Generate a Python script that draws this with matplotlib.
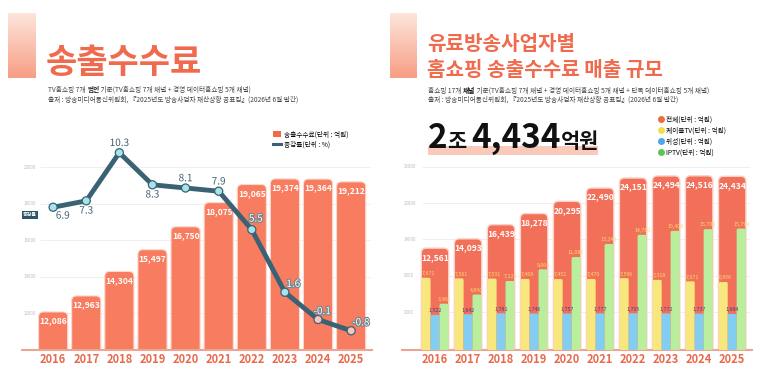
import numpy as np
import matplotlib
matplotlib.use("Agg")
import matplotlib.pyplot as plt
from matplotlib.patches import FancyBboxPatch, Rectangle, Patch
from matplotlib.lines import Line2D
import matplotlib.patheffects as pe

plt.rcParams['font.family'] = ['Noto Sans CJK KR', 'DejaVu Sans']

# ---- data ----
years = ['2016', '2017', '2018', '2019', '2020', '2021', '2022', '2023', '2024', '2025']
fees = [12086, 12963, 14304, 15497, 16750, 18075, 19065, 19374, 19364, 19212]
growth = [6.9, 7.3, 10.3, 8.3, 8.1, 7.9, 5.5, 1.6, -0.1, -0.8]

total = [12561, 14093, 16439, 18278, 20295, 22490, 24151, 24494, 24516, 24434]
cable = [7671, 7561, 7531, 7468, 7452, 7470, 7596, 7318, 7071, 6956]
sat = [1522, 1642, 1781, 1746, 1757, 1777, 1795, 1772, 1737, 1684]
iptv = [3368, 4890, 7127, 9064, 11086, 13243, 14760, 15404, 15708, 15794]

left_ticks = [12000, 14000, 16000, 18000, 20000]
right_ticks = [2000, 8000, 14000, 20000, 26000]

W, H = 765, 382
CORAL = '#F77C60'
RED = '#F2705A'
TITLE = '#F06A4E'
TEAL = '#3B6274'
YEARC = '#E8694C'

fig = plt.figure(figsize=(W / 100, H / 100), dpi=100)
fig.patch.set_facecolor('white')


def fx(x):
    return x / W


def fy(y):
    return 1 - y / H


def round_bars(ax, bars, r_px, **kw):
    x0, x1 = ax.get_xlim()
    y0, y1 = ax.get_ylim()
    sx = ax.bbox.width / (x1 - x0)
    sy = ax.bbox.height / (y1 - y0)
    ext = 3 * r_px / sy
    for b in bars:
        b.set_visible(False)
        p = FancyBboxPatch((b.get_x(), b.get_y() - ext), b.get_width(), b.get_height() + ext,
                           boxstyle=f"round,pad=0,rounding_size={r_px / sx}",
                           mutation_aspect=sx / sy, **kw)
        ax.add_patch(p)


def style_axis(ax, ticks, gx0):
    for s in ['top', 'right', 'left']:
        ax.spines[s].set_visible(False)
    ax.spines['bottom'].set_color('#EBA595')
    ax.spines['bottom'].set_linewidth(1.5)
    ax.set_yticks([])
    ax.hlines(ticks, gx0, 0.995, transform=ax.get_yaxis_transform(), color='#EDEDED', lw=0.6, zorder=0)
    for t in ticks:
        ax.text(0.004, t, str(t), transform=ax.get_yaxis_transform(), ha='left', va='center',
                fontsize=3.2, color='#BDBDBD')
    ax.set_xticks(range(len(years)))
    ax.set_xticklabels(years, fontsize=8, fontweight='bold', color=YEARC)
    ax.tick_params(axis='x', length=0, pad=2)


def gradient_block(x0, y0, x1, y1):
    gax = fig.add_axes([fx(x0), fy(y1), fx(x1 - x0), (y1 - y0) / H])
    grad = np.linspace(0, 1, 100).reshape(-1, 1)
    c_top = np.array([0.99, 0.90, 0.86])
    c_bot = np.array([0.97, 0.62, 0.52])
    img = c_top[None, None, :] * (1 - grad[:, :, None]) + c_bot[None, None, :] * grad[:, :, None]
    gax.imshow(img, aspect='auto')
    gax.axis('off')


def seq_text(x_px, y_px, parts):
    r = fig.canvas.get_renderer()
    x = x_px
    for s, kw in parts:
        t = fig.text(fx(x), fy(y_px), s, ha='left', va='baseline', **kw)
        x += t.get_window_extent(r).width
    return x


# ---------------- left panel ----------------
gradient_block(8, 13, 36, 78)
fig.text(fx(46), fy(62), '송출수수료', fontsize=24.5, fontweight='heavy', color=TITLE, va='center', ha='left')
sub = dict(fontsize=4.8, color='#444444')
seq_text(48, 92, [('TV홈쇼핑 7개 ', sub), ('법인', dict(sub, fontweight='bold', color='#111111')),
                  (' 기준(TV홈쇼핑 7개 채널 + 경영 데이터홈쇼핑 5개 채널)', sub)])
seq_text(48, 102, [('출처 : 방송미디어통신위원회, 『2025년도 방송사업자 재산상황 공표집』(2026년 6월 발간)', sub)])

axL = fig.add_axes([fx(22), fy(350), fx(350), (350 - 120) / H])
x = np.arange(len(years))
axL.set_xlim(-0.94, 9.63)
axL.set_ylim(10000, 22600)
style_axis(axL, left_ticks, 0.05)
bars = axL.bar(x, np.array(fees) - 10000, bottom=10000, width=0.88, color=CORAL)
round_bars(axL, bars, 5, facecolor=CORAL, edgecolor='#FCD9CF', lw=0.8, zorder=2)
for xi, v in zip(x, fees):
    axL.annotate(f'{v:,}', (xi, v), xytext=(0, -6.5), textcoords='offset points', ha='center', va='center',
                 fontsize=6.1, fontweight='bold', color='white', zorder=5)

axG = axL.twinx()
axG.set_ylim(-2.0, 12.34)
axG.axis('off')
axG.plot(x, growth, color=TEAL, lw=3.5, zorder=3, solid_capstyle='round')
mcol = ['#A6E4EA'] * 8 + ['#F6C6BD'] * 2
axG.scatter(x, growth, s=34, c=mcol, edgecolors=TEAL, linewidths=0.9, zorder=4)
offs = [(7, -6), (0, -7), (0, 7), (0, -7), (0, 7), (0, 7), (3, 8), (6, 6), (3, 6), (7, 6)]
for i, (xi, v) in enumerate(zip(x, growth)):
    if i < 6:
        col, stroke = '#3E5F6D', 'white'
    else:
        col, stroke = 'white', '#6F8790'
    axG.annotate(f'{v}', (xi, v), xytext=offs[i], textcoords='offset points', ha='center', va='center',
                 fontsize=7.2, color=col, zorder=6,
                 path_effects=[pe.withStroke(linewidth=1.6, foreground=stroke)])
fig.text(fx(30), fy(215), '증감률', fontsize=3.6, color='white', fontweight='bold', ha='center', va='center',
         bbox=dict(boxstyle='square,pad=0.25', facecolor='#2E5668', edgecolor='none'))

lh = [Patch(facecolor='#F26B46', edgecolor='none'), Line2D([], [], color=TEAL, lw=2.2)]
fig.legend(lh, ['송출수수료(단위 : 억원)', '증감률(단위 : %)'], loc='upper left',
           bbox_to_anchor=(fx(270), fy(127)), frameon=False, fontsize=4.8, handlelength=1.2,
           handleheight=0.9, handletextpad=0.4, labelspacing=0.35, borderpad=0)

# ---------------- right panel ----------------
gradient_block(390, 13, 417, 78)
fig.text(fx(427), fy(44), '유료방송사업자별', fontsize=14.5, fontweight='heavy', color=TITLE, va='center', ha='left')
fig.text(fx(427), fy(69), '홈쇼핑 송출수수료 매출 규모', fontsize=14.5, fontweight='heavy', color=TITLE,
         va='center', ha='left')
seq_text(428, 93, [('홈쇼핑 17개 ', sub), ('채널', dict(sub, fontweight='bold', color='#111111')),
                   (' 기준(TV홈쇼핑 7개 채널 + 경영 데이터홈쇼핑 5개 채널 + 단독 데이터홈쇼핑 5개 채널)', sub)])
seq_text(428, 102, [('출처 : 방송미디어통신위원회, 『2025년도 방송사업자 재산상황 공표집』(2026년 6월 발간)', sub)])

fig.patches.append(Rectangle((fx(428), fy(155)), fx(170), 9 / H, transform=fig.transFigure,
                             facecolor='#F9C9BA', edgecolor='none', zorder=0))
big = dict(fontsize=24, fontweight='heavy', color='#111111')
small = dict(fontsize=15, fontweight='bold', color='#111111')
seq_text(428, 148, [('2', big), ('조 ', small), ('4,434', big), ('억원', small)])

axR = fig.add_axes([fx(402), fy(350), fx(350), (350 - 160) / H])
YB = -4280
axR.set_xlim(-1.0, 9.6)
axR.set_ylim(YB, 27130)
style_axis(axR, right_ticks, 0.057)
tb = axR.bar(x, np.array(total) - YB, bottom=YB, width=0.83, color=RED)
round_bars(axR, tb, 5, facecolor=RED, edgecolor='#FAD2C8', lw=1.0, zorder=2)
sw = 0.27
cb = axR.bar(x - sw, np.array(cable) - YB, bottom=YB, width=sw, color='#F8E77C')
sb = axR.bar(x, np.array(sat) - YB, bottom=YB, width=sw, color='#82CDF1')
ib = axR.bar(x + sw, np.array(iptv) - YB, bottom=YB, width=sw, color='#B8EE9C')
round_bars(axR, cb, 1.5, facecolor='#F8E77C', edgecolor='none', zorder=3)
round_bars(axR, sb, 1.5, facecolor='#82CDF1', edgecolor='none', zorder=3)
round_bars(axR, ib, 1.5, facecolor='#B8EE9C', edgecolor='none', zorder=3)
for xi, t, c, s, p in zip(x, total, cable, sat, iptv):
    axR.annotate(f'{t:,}', (xi, t), xytext=(0, -6.5), textcoords='offset points', ha='center', va='center',
                 fontsize=6.1, fontweight='bold', color='white', zorder=5)
    axR.annotate(f'{c:,}', (xi - sw * 1.5, c), xytext=(0, 3), textcoords='offset points', ha='left',
                 va='center', fontsize=3.8, color='#F7DD6A', zorder=5)
    axR.annotate(f'{s:,}', (xi, s), xytext=(0, 3), textcoords='offset points', ha='center',
                 va='center', fontsize=3.8, color='#4A3B8C', zorder=5)
    axR.annotate(f'{p:,}', (xi + sw, p), xytext=(0, 3), textcoords='offset points', ha='center',
                 va='center', fontsize=3.8, color='#F7DD6A', zorder=5)

rh = [Line2D([], [], marker='o', ls='none', markersize=5, markerfacecolor=c, markeredgecolor='none')
      for c in ['#EC6B3F', '#F2DF4A', '#4BA9E8', '#5CC451']]
fig.legend(rh, ['전체(단위 : 억원)', '케이블TV(단위 : 억원)', '위성(단위 : 억원)', 'IPTV(단위 : 억원)'],
           loc='upper left', bbox_to_anchor=(fx(654), fy(112)), frameon=False, fontsize=4.8,
           handlelength=1.0, handletextpad=0.3, labelspacing=0.45, borderpad=0)

fig.savefig('out.png', dpi=100)
